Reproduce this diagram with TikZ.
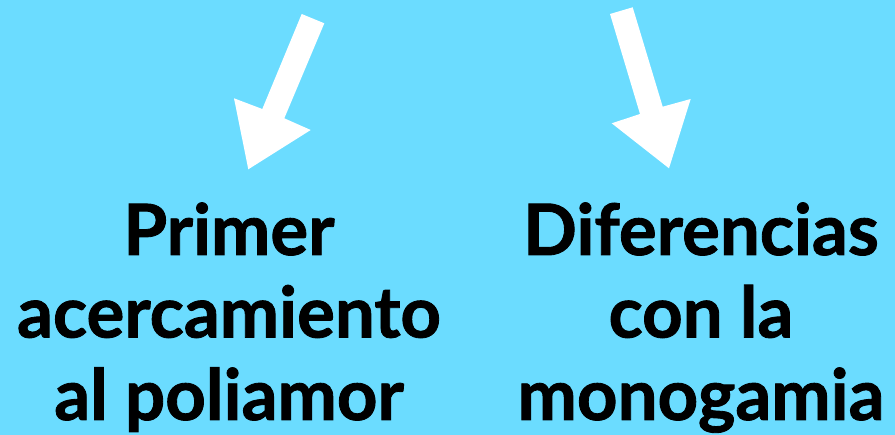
\documentclass[tikz,border=0pt]{standalone}
\usepackage{fontspec}
\setmainfont{Lato}[BoldFeatures={FakeBold=1.2}]
\definecolor{bgblue}{HTML}{6BDCFF}
\tikzset{
  label text/.style={font=\fontsize{70.8}{82.5}\selectfont\bfseries, text=black, align=center, inner sep=0pt},
  white arrow/.style={fill=white, draw=none}
}
\begin{document}
\begin{tikzpicture}[x=1pt,y=-1pt]
\fill[bgblue] (0,0) rectangle (895,435);
\useasboundingbox (0,0) rectangle (895,435);
% left arrow
\fill[white arrow] (301.7,14) -- (324.3,23.3) -- (284.3,118.3) -- (310.7,130) -- (248.3,169.3) -- (234,98.3) -- (262.3,109) -- cycle;
% right arrow
\fill[white arrow] (610,14) -- (632.7,7.3) -- (662.7,106.7) -- (690.7,99) -- (669,168.3) -- (611.7,123.3) -- (640,114) -- cycle;
\node[label text, anchor=base] (left) at (229,420) {Primer\\acercamiento\\al poliamor};
\node[label text, anchor=base] (right) at (701,420) {Diferencias\\con la\\monogamia};
\end{tikzpicture}
\end{document}
